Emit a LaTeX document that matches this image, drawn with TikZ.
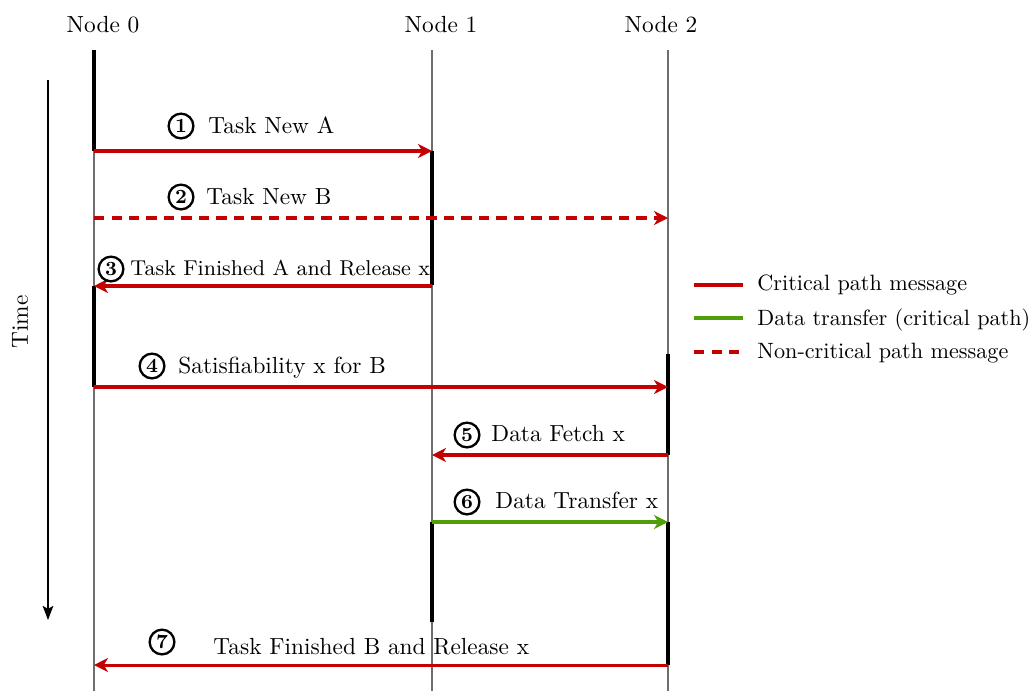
\documentclass[tikz,border=0pt]{standalone}
\usetikzlibrary{arrows.meta}
\definecolor{critred}{RGB}{196,0,0}
\definecolor{datagreen}{RGB}{80,158,10}
\definecolor{lifegray}{RGB}{110,110,110}
\begin{document}
\begin{tikzpicture}[x=0.4286pt,y=-0.4286pt,
  lifeline/.style={draw=lifegray,line width=0.6pt},
  active/.style={draw=black,line width=1.7pt},
  tip/.style={-{Stealth[length=6pt,width=6pt,inset=1.8pt]}},
  crit/.style={tip,draw=critred,line width=1.3pt},
  noncrit/.style={crit,dash pattern=on 4.3pt off 3.2pt},
  datamsg/.style={tip,draw=datagreen,line width=1.3pt},
  head/.style={anchor=base,inner sep=0pt,font=\normalsize},
  msg/.style={anchor=base west,inner sep=0pt,font=\normalsize},
  stepnum/.style={circle,draw=black,line width=1pt,minimum size=10.6pt,inner sep=0pt,font=\bfseries\fontsize{8.6}{9}\selectfont},
  legtext/.style={anchor=base west,inner sep=0pt,font=\fontsize{9.5}{11}\selectfont}]
\useasboundingbox (0,0) rectangle (1036,691);

% participants
\node[head] (h0) at (103,32) {Node 0};
\node[head] (h1) at (441,32) {Node 1};
\node[head] (h2) at (661,32) {Node 2};

% lifelines
\coordinate (l0t) at (94,50);  \coordinate (l0b) at (94,691);
\coordinate (l1t) at (432,50); \coordinate (l1b) at (432,691);
\coordinate (l2t) at (668,50); \coordinate (l2b) at (668,691);
\draw[lifeline] (l0t) -- (l0b);
\draw[lifeline] (l1t) -- (l1b);
\draw[lifeline] (l2t) -- (l2b);

% message end points
\coordinate (m1a) at (94,151);  \coordinate (m1b) at (432,151);
\coordinate (m2a) at (94,218);  \coordinate (m2b) at (668,218);
\coordinate (m3a) at (432,286); \coordinate (m3b) at (94,286);
\coordinate (m4a) at (94,387);  \coordinate (m4b) at (668,387);
\coordinate (m5a) at (668,455); \coordinate (m5b) at (432,455);
\coordinate (m6a) at (432,522); \coordinate (m6b) at (668,522);
\coordinate (m7a) at (668,665); \coordinate (m7b) at (94,665);
\coordinate (a1e) at (432,285);
\coordinate (a4e) at (668,354);
\coordinate (a5e) at (432,622);

% activation bars
\draw[active] (l0t) -- (m1a);
\draw[active] (m1b) -- (a1e);
\draw[active] (m3b) -- (m4a);
\draw[active] (a4e) -- (m5a);
\draw[active] (m6a) -- (a5e);
\draw[active] (m6b) -- (m7a);

% messages
\draw[crit] (m1a) -- (m1b);
\draw[noncrit] (m2a) -- (m2b);
\draw[crit] (m3a) -- (m3b);
\draw[crit] (m4a) -- (m4b);
\draw[crit] (m5a) -- (m5b);
\draw[datamsg] (m6a) -- (m6b);
\draw[crit] (m7a) -- (m7b);

% message labels
\node[stepnum] (s1) at (181,126) {1};
\node[msg] (t1) at (208,133) {Task New A};
\node[stepnum] (s2) at (181,197) {2};
\node[msg] (t2) at (206,204) {Task New B};
\node[stepnum] (s3) at (111,269) {3};
\node[msg,font=\fontsize{9.2}{11}\selectfont] (t3) at (130,275) {Task Finished A and Release x};
\node[stepnum] (s4) at (152,366) {4};
\node[msg] (t4) at (178,373) {Satisfiability x for B};
\node[stepnum] (s5) at (467,435) {5};
\node[msg] (t5) at (491,441) {Data Fetch x};
\node[stepnum] (s6) at (467,502) {6};
\node[msg] (t6) at (495,508) {Data Transfer x};
\node[stepnum] (s7) at (162,642) {7};
\node[msg] (t7) at (213,654) {Task Finished B and Release x};

% time axis
\coordinate (ta) at (48,80);
\coordinate (tb) at (48,620);
\draw[line width=0.9pt,-{Stealth[length=6pt,width=4.5pt,inset=1.2pt]}] (ta) -- (tb);
\node[rotate=90,inner sep=0pt] (time) at (20,322) {Time};

% legend
\coordinate (g1a) at (694,285); \coordinate (g1b) at (743,285);
\coordinate (g2a) at (694,318); \coordinate (g2b) at (743,318);
\coordinate (g3a) at (694,352); \coordinate (g3b) at (743,352);
\draw[draw=critred,line width=1.3pt] (g1a) -- (g1b);
\draw[draw=datagreen,line width=1.3pt] (g2a) -- (g2b);
\draw[draw=critred,line width=1.3pt,dash pattern=on 4.3pt off 3.2pt] (g3a) -- (g3b);
\node[legtext] (lg1) at (757,290) {Critical path message};
\node[legtext] (lg2) at (757,325) {Data transfer (critical path)};
\node[legtext] (lg3) at (757,358) {Non-critical path message};
\end{tikzpicture}
\end{document}
